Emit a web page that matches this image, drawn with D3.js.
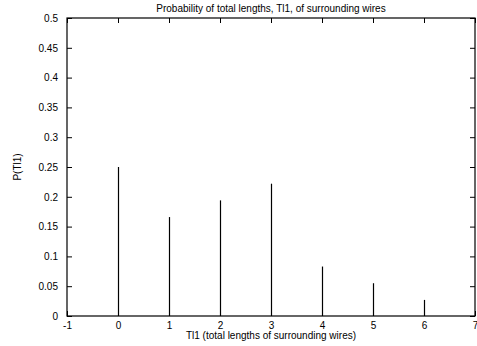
<!DOCTYPE html>
<html>
<head>
<meta charset="utf-8">
<script src="https://cdn.jsdelivr.net/npm/d3@7"></script>
<style>
  body { margin: 0; background: #fff; }
  svg { display: block; font-family: "Liberation Sans", Arial, sans-serif; }
</style>
</head>
<body>
<div id="chart"></div>
<script>
"use strict";

const lengths = [0, 1, 2, 3, 4, 5, 6];
const probs = [0.25, 0.166, 0.194, 0.222, 0.083, 0.055, 0.027];
const xTicks = [-1, 0, 1, 2, 3, 4, 5, 6, 7];
const yTicks = [0, 0.05, 0.1, 0.15, 0.2, 0.25, 0.3, 0.35, 0.4, 0.45, 0.5];

const WIDTH = 477;
const HEIGHT = 346;
const margin = { left: 67, right: 2, top: 18, bottom: 30 };
const TICK = 5;

const svg = d3.select("#chart").append("svg").attr("width", WIDTH).attr("height", HEIGHT);

const xScale = d3.scaleLinear().domain([-1, 7]).range([margin.left, WIDTH - margin.right]);
const yScale = d3.scaleLinear().domain([0, 0.5]).range([HEIGHT - margin.bottom, margin.top]);

// impulses
svg
  .selectAll("line.impulse")
  .data(lengths)
  .enter()
  .append("line")
  .attr("class", "impulse")
  .attr("x1", (d) => Math.round(xScale(d)) + 0.5)
  .attr("x2", (d) => Math.round(xScale(d)) + 0.5)
  .attr("y1", yScale(0))
  .attr("y2", (d, i) => yScale(probs[i]))
  .attr("stroke", "#000")
  .attr("stroke-width", 1.2);

// axes: bottom/top, left/right with inward ticks
const axisB = svg
  .append("g")
  .attr("transform", `translate(0, ${yScale(0)})`)
  .call(d3.axisBottom(xScale).tickValues(xTicks).tickSize(-TICK).tickPadding(6).tickFormat((d) => String(d)));
const axisT = svg
  .append("g")
  .attr("transform", `translate(0, ${yScale(0.5)})`)
  .call(d3.axisTop(xScale).tickValues(xTicks).tickSize(-TICK).tickFormat(""));
const axisL = svg
  .append("g")
  .attr("transform", `translate(${xScale(-1)}, 0)`)
  .call(d3.axisLeft(yScale).tickValues(yTicks).tickSize(-TICK).tickPadding(9).tickFormat((d) => String(+d.toFixed(2))));
const axisR = svg
  .append("g")
  .attr("transform", `translate(${xScale(7)}, 0)`)
  .call(d3.axisRight(yScale).tickValues(yTicks).tickSize(-TICK).tickFormat(""));

[axisB, axisT, axisL, axisR].forEach((g) => {
  g.select(".domain").remove();
  g.selectAll("line").attr("stroke", "#000");
  g.selectAll("text").attr("font-size", 10).attr("fill", "#000").attr("font-family", "Liberation Sans, Arial, sans-serif");
});

// frame
svg
  .append("rect")
  .attr("x", xScale(-1))
  .attr("y", yScale(0.5))
  .attr("width", xScale(7) - xScale(-1))
  .attr("height", yScale(0) - yScale(0.5))
  .attr("fill", "none")
  .attr("stroke", "#000")
  .attr("stroke-width", 1.2);

// titles
svg
  .append("text")
  .attr("x", (xScale(-1) + xScale(7)) / 2)
  .attr("y", 12)
  .attr("text-anchor", "middle")
  .attr("font-size", 10)
  .text("Probability of total lengths, Tl1, of surrounding wires");

svg
  .append("text")
  .attr("x", (xScale(-1) + xScale(7)) / 2)
  .attr("y", 339)
  .attr("text-anchor", "middle")
  .attr("font-size", 10)
  .text("Tl1 (total lengths of surrounding wires)");

svg
  .append("text")
  .attr("transform", `translate(21, ${(yScale(0) + yScale(0.5)) / 2}) rotate(-90)`)
  .attr("text-anchor", "middle")
  .attr("font-size", 10)
  .text("P(Tl1)");
</script>
</body>
</html>
